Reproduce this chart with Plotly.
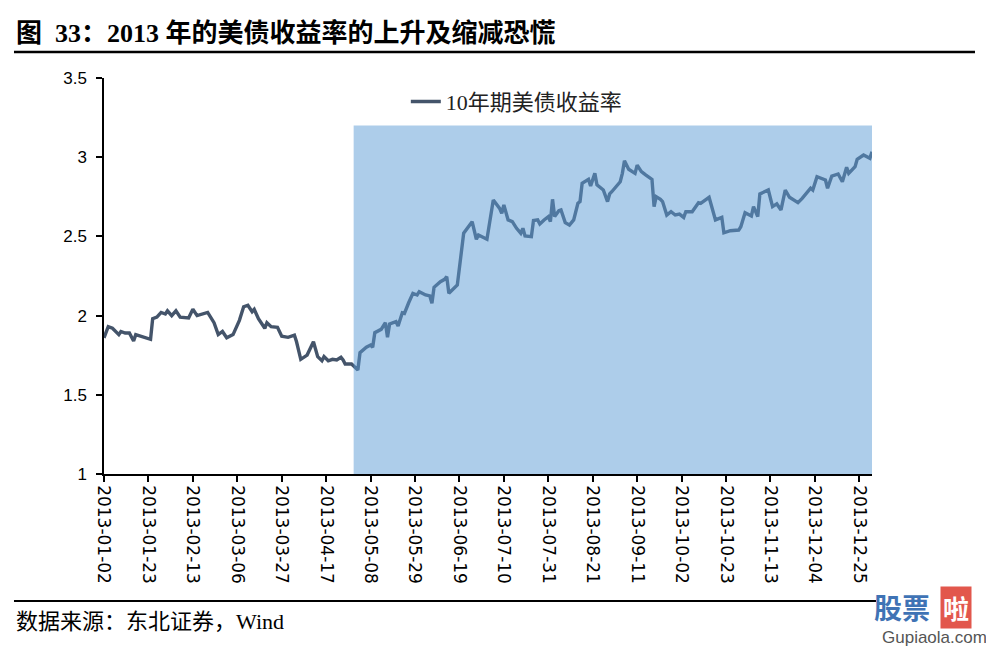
import plotly.graph_objects as go

# ---------------- data ----------------
dates = [
    "2013-01-02", "2013-01-04", "2013-01-06", "2013-01-09", "2013-01-10", "2013-01-12",
    "2013-01-14", "2013-01-16", "2013-01-17", "2013-01-21", "2013-01-24", "2013-01-25",
    "2013-01-27", "2013-01-29", "2013-01-31", "2013-02-01", "2013-02-03", "2013-02-05",
    "2013-02-07", "2013-02-11", "2013-02-13", "2013-02-15", "2013-02-20", "2013-02-23",
    "2013-02-25", "2013-02-27", "2013-03-01", "2013-03-04", "2013-03-07", "2013-03-09",
    "2013-03-11", "2013-03-13", "2013-03-14", "2013-03-16", "2013-03-19", "2013-03-20",
    "2013-03-22", "2013-03-25", "2013-03-27", "2013-03-30", "2013-04-02", "2013-04-03",
    "2013-04-05", "2013-04-08", "2013-04-10", "2013-04-11", "2013-04-13", "2013-04-15",
    "2013-04-16", "2013-04-18", "2013-04-20", "2013-04-22", "2013-04-24", "2013-04-25",
    "2013-04-26", "2013-04-29", "2013-05-02", "2013-05-03", "2013-05-06", "2013-05-08",
    "2013-05-09", "2013-05-10", "2013-05-13", "2013-05-15", "2013-05-16", "2013-05-17",
    "2013-05-20", "2013-05-21", "2013-05-23", "2013-05-24", "2013-05-26", "2013-05-28",
    "2013-05-30", "2013-05-31", "2013-06-03", "2013-06-05", "2013-06-06", "2013-06-07",
    "2013-06-10", "2013-06-12", "2013-06-13", "2013-06-14", "2013-06-18", "2013-06-21",
    "2013-06-25", "2013-06-27", "2013-06-28", "2013-07-02", "2013-07-05", "2013-07-08",
    "2013-07-09", "2013-07-10", "2013-07-12", "2013-07-14", "2013-07-16", "2013-07-18",
    "2013-07-19", "2013-07-20", "2013-07-23", "2013-07-24", "2013-07-26", "2013-07-27",
    "2013-07-29", "2013-07-31", "2013-08-01", "2013-08-02", "2013-08-03", "2013-08-04",
    "2013-08-05", "2013-08-06", "2013-08-08", "2013-08-10", "2013-08-12", "2013-08-14",
    "2013-08-15", "2013-08-16", "2013-08-19", "2013-08-20", "2013-08-22", "2013-08-23",
    "2013-08-26", "2013-08-28", "2013-08-29", "2013-08-30", "2013-09-03", "2013-09-04",
    "2013-09-05", "2013-09-07", "2013-09-10", "2013-09-11", "2013-09-13", "2013-09-15",
    "2013-09-18", "2013-09-19", "2013-09-20", "2013-09-22", "2013-09-23", "2013-09-25",
    "2013-09-27", "2013-09-29", "2013-10-01", "2013-10-03", "2013-10-04", "2013-10-07",
    "2013-10-10", "2013-10-11", "2013-10-15", "2013-10-18", "2013-10-21", "2013-10-22",
    "2013-10-25", "2013-10-29", "2013-10-30", "2013-11-01", "2013-11-04", "2013-11-05",
    "2013-11-07", "2013-11-08", "2013-11-12", "2013-11-14", "2013-11-16", "2013-11-18",
    "2013-11-20", "2013-11-22", "2013-11-26", "2013-11-28", "2013-12-02", "2013-12-03",
    "2013-12-05", "2013-12-09", "2013-12-10", "2013-12-12", "2013-12-15", "2013-12-17",
    "2013-12-19", "2013-12-20", "2013-12-23", "2013-12-24", "2013-12-27", "2013-12-30",
    "2013-12-31",
]

yield_10y = [
    1.86, 1.93, 1.92, 1.88, 1.90, 1.89,
    1.89, 1.84, 1.88, 1.86, 1.85, 1.98,
    1.99, 2.02, 2.01, 2.03, 2.00, 2.03,
    1.99, 1.985, 2.04, 2.00, 2.02, 1.955,
    1.88, 1.90, 1.86, 1.88, 1.97, 2.056,
    2.065, 2.025, 2.04, 1.98, 1.92, 1.955,
    1.93, 1.926, 1.87, 1.863, 1.877, 1.835,
    1.724, 1.751, 1.80, 1.835, 1.741, 1.715,
    1.741, 1.715, 1.724, 1.72, 1.737, 1.72,
    1.694, 1.694, 1.657, 1.766, 1.80, 1.814,
    1.80, 1.892, 1.913, 1.955, 1.863, 1.947,
    1.962, 1.934, 2.018, 2.014, 2.081, 2.14,
    2.13, 2.151, 2.13, 2.124, 2.078, 2.179,
    2.214, 2.229, 2.246, 2.141, 2.193, 2.52,
    2.593, 2.482, 2.509, 2.482, 2.73, 2.677,
    2.646, 2.698, 2.604, 2.593, 2.551, 2.52,
    2.551, 2.503, 2.498, 2.60, 2.604, 2.578,
    2.604, 2.625, 2.593, 2.734, 2.625, 2.646,
    2.662, 2.667, 2.587, 2.572, 2.604, 2.709,
    2.72, 2.835, 2.86, 2.818, 2.898, 2.825,
    2.793, 2.72, 2.768, 2.782, 2.845, 2.898,
    2.978, 2.924, 2.898, 2.95, 2.909, 2.888,
    2.86, 2.688, 2.751, 2.734, 2.72, 2.635,
    2.656, 2.635, 2.641, 2.62, 2.656, 2.656,
    2.713, 2.709, 2.747, 2.604, 2.62, 2.523,
    2.536, 2.54, 2.561, 2.65, 2.629, 2.688,
    2.625, 2.768, 2.793, 2.688, 2.705, 2.667,
    2.793, 2.747, 2.713, 2.74, 2.804, 2.793,
    2.877, 2.856, 2.804, 2.881, 2.894, 2.845,
    2.936, 2.898, 2.94, 2.987, 3.014, 2.993,
    3.035,
]

series_name = "10年期美债收益率"
x_range = ["2013-01-02", "2013-12-31"]
tick_dates = [
    "2013-01-02", "2013-01-23", "2013-02-13", "2013-03-06", "2013-03-27", "2013-04-17",
    "2013-05-08", "2013-05-29", "2013-06-19", "2013-07-10", "2013-07-31", "2013-08-21",
    "2013-09-11", "2013-10-02", "2013-10-23", "2013-11-13", "2013-12-04", "2013-12-25",
]
y_ticks = [1, 1.5, 2, 2.5, 3, 3.5]
y_tick_text = ["1", "1.5", "2", "2.5", "3", "3.5"]
shade_start = "2013-04-30"
shade_end = "2013-12-31"
shade_top = 3.2

title_text = "图  33：2013 年的美债收益率的上升及缩减恐慌"
source_text = "数据来源：东北证券，Wind"

# ---------------- figure ----------------
SERIF = "Liberation Serif, 'Noto Sans CJK SC', serif"

fig = go.Figure()
fig.add_trace(go.Scatter(
    x=dates, y=yield_10y, mode="lines", name=series_name,
    line=dict(color="#44546A", width=3.4),
))

# shaded taper-tantrum window (drawn above the line, semi-transparent)
fig.add_shape(type="rect", xref="x", yref="y",
              x0=shade_start, x1=shade_end, y0=1, y1=shade_top,
              fillcolor="rgba(91,155,213,0.5)", line=dict(width=0), layer="above")

# title rule and footer rule
fig.add_shape(type="line", xref="paper", yref="paper",
              x0=-0.1172, x1=1.1341, y0=1.0657, y1=1.0657,
              line=dict(color="black", width=2.5))
fig.add_shape(type="line", xref="paper", yref="paper",
              x0=-0.1172, x1=1.0052, y0=-0.3207, y1=-0.3207,
              line=dict(color="black", width=2))

fig.add_annotation(text="<b>" + title_text + "</b>", xref="paper", yref="paper",
                   x=-0.1172, y=1.1136, xanchor="left", yanchor="middle",
                   showarrow=False, font=dict(family=SERIF, size=26, color="black"))
fig.add_annotation(text=source_text, xref="paper", yref="paper",
                   x=-0.1172, y=-0.3737, xanchor="left", yanchor="middle",
                   showarrow=False, font=dict(family=SERIF, size=22, color="black"))

# watermark
fig.add_annotation(text="<b>股票</b>", xref="paper", yref="paper",
                   x=1.0, y=-0.336, xanchor="left", yanchor="middle", showarrow=False,
                   font=dict(family="Noto Sans CJK SC", size=28, color="#3f73b5"))
fig.add_annotation(text="<b>啦</b>", xref="paper", yref="paper",
                   x=1.0885, y=-0.336, xanchor="left", yanchor="middle", showarrow=False,
                   bgcolor="#e2574c", borderpad=2,
                   font=dict(family="Noto Sans CJK SC", size=26, color="white"))
fig.add_annotation(text="Gupiaola.com", xref="paper", yref="paper",
                   x=1.0104, y=-0.412, xanchor="left", yanchor="middle", showarrow=False,
                   font=dict(family="Liberation Sans Narrow, Liberation Sans", size=17, color="#555555"))

# The page places the figure 8px from the top-left corner, so the figure is
# sized to fill the remaining 986x640 of the 994x648 window.
fig.update_layout(
    width=986, height=640,
    margin=dict(l=96, r=122, t=70, b=174),
    paper_bgcolor="white", plot_bgcolor="white",
    showlegend=True,
    legend=dict(x=0.393, y=0.94, xanchor="left", yanchor="middle",
                bgcolor="rgba(0,0,0,0)", borderwidth=0,
                font=dict(family=SERIF, size=22, color="#222222")),
    xaxis=dict(
        type="date", range=x_range, tickmode="array", tickvals=tick_dates,
        tickformat="%Y-%m-%d", tickangle=90, showgrid=False, zeroline=False,
        showline=True, linecolor="black", linewidth=1.5,
        ticks="outside", ticklen=6, tickcolor="black", tickwidth=1.5,
        tickfont=dict(family="DejaVu Sans", size=17, color="black"),
    ),
    yaxis=dict(
        range=[1, 3.5], tickmode="array", tickvals=y_ticks, ticktext=y_tick_text,
        showgrid=False, zeroline=False, showline=True, linecolor="black", linewidth=1.5,
        ticks="outside", ticklen=6, tickcolor="black", tickwidth=1.5,
        ticklabelstandoff=6,
        tickfont=dict(family="Liberation Sans", size=17, color="black"),
    ),
)

fig.write_html("out.html")
